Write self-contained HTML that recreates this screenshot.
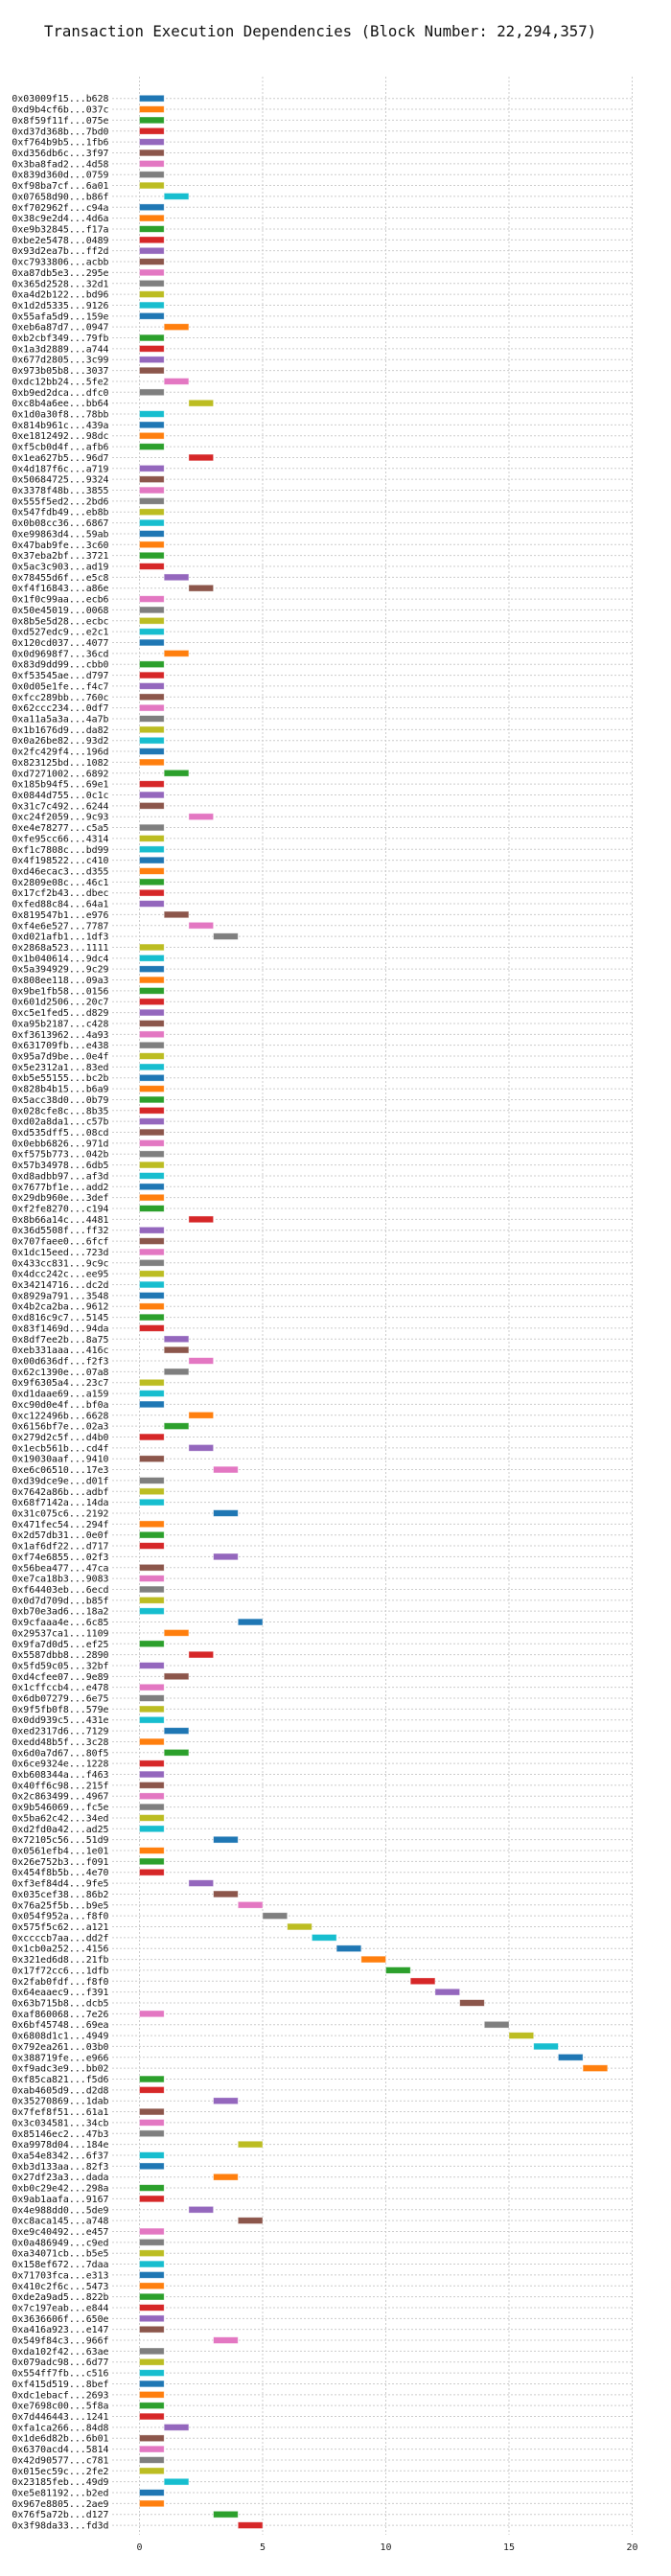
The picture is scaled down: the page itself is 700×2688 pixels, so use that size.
<!DOCTYPE html>
<html><head><meta charset="utf-8"><style>
html,body{margin:0;padding:0;background:#fff;}
svg{display:block;}
text{font-family:"DejaVu Sans Mono","Liberation Mono",monospace;}
</style></head>
<body>
<svg id="chart" width="700" height="2688" viewBox="0 0 700 2688" xmlns="http://www.w3.org/2000/svg">
<rect width="700" height="2688" fill="#fff"/>
<text x="46" y="38" font-size="15.7" fill="#111">Transaction Execution Dependencies (Block Number: 22,294,357)</text>
<g id="grid"></g><g id="rows"></g><g id="xticks"></g>
</svg>
<script>
const txLabels = ["0x03009f15...b628","0xd9b4cf6b...037c","0x8f59f11f...075e","0xd37d368b...7bd0","0xf764b9b5...1fb6","0xd356db6c...3f97","0x3ba8fad2...4d58","0x839d360d...0759","0xf98ba7cf...6a01","0x07658d90...b86f","0xf702962f...c94a","0x38c9e2d4...4d6a","0xe9b32845...f17a","0xbe2e5478...0489","0x93d2ea7b...ff2d","0xc7933806...acbb","0xa87db5e3...295e","0x365d2528...32d1","0xa4d2b122...bd96","0x1d2d5335...9126","0x55afa5d9...159e","0xeb6a87d7...0947","0xb2cbf349...79fb","0x1a3d2889...a744","0x677d2805...3c99","0x973b05b8...3037","0xdc12bb24...5fe2","0xb9ed2dca...dfc0","0xc8b4a6ee...bb64","0x1d0a30f8...78bb","0x814b961c...439a","0xe1812492...98dc","0xf5cb0d4f...afb6","0x1ea627b5...96d7","0x4d187f6c...a719","0x50684725...9324","0x3378f48b...3855","0x555f5ed2...2bd6","0x547fdb49...eb8b","0x0b08cc36...6867","0xe99863d4...59ab","0x47bab9fe...3c60","0x37eba2bf...3721","0x5ac3c903...ad19","0x78455d6f...e5c8","0xf4f16843...a86e","0x1f0c99aa...ecb6","0x50e45019...0068","0x8b5e5d28...ecbc","0xd527edc9...e2c1","0x120cd037...4077","0x0d9698f7...36cd","0x83d9dd99...cbb0","0xf53545ae...d797","0x0d05e1fe...f4c7","0xfcc289bb...760c","0x62ccc234...0df7","0xa11a5a3a...4a7b","0x1b1676d9...da82","0x0a26be82...93d2","0x2fc429f4...196d","0x823125bd...1082","0xd7271002...6892","0x185b94f5...69e1","0x0844d755...0c1c","0x31c7c492...6244","0xc24f2059...9c93","0xe4e78277...c5a5","0xfe95cc66...4314","0xf1c7808c...bd99","0x4f198522...c410","0xd46ecac3...d355","0x2809e08c...46c1","0x17cf2b43...dbec","0xfed88c84...64a1","0x819547b1...e976","0xf4e6e527...7787","0xd021afb1...1df3","0x2868a523...1111","0x1b040614...9dc4","0x5a394929...9c29","0x808ee118...09a3","0x9be1fb58...0156","0x601d2506...20c7","0xc5e1fed5...d829","0xa95b2187...c428","0xf3613962...4a93","0x631709fb...e438","0x95a7d9be...0e4f","0x5e2312a1...83ed","0xb5e55155...bc2b","0x828b4b15...b6a9","0x5acc38d0...0b79","0x028cfe8c...8b35","0xd02a8da1...c57b","0xd535dff5...08cd","0x0ebb6826...971d","0xf575b773...042b","0x57b34978...6db5","0xd8adbb97...af3d","0x7677bf1e...add2","0x29db960e...3def","0xf2fe8270...c194","0x8b66a14c...4481","0x36d5508f...ff32","0x707faee0...6fcf","0x1dc15eed...723d","0x433cc831...9c9c","0x4dcc242c...ee95","0x34214716...dc2d","0x8929a791...3548","0x4b2ca2ba...9612","0xd816c9c7...5145","0x83f1469d...94da","0x8df7ee2b...8a75","0xeb331aaa...416c","0x00d636df...f2f3","0x62c1390e...07a8","0x9f6305a4...23c7","0xd1daae69...a159","0xc90d0e4f...bf0a","0xc122496b...6628","0x6156bf7e...02a3","0x279d2c5f...d4b0","0x1ecb561b...cd4f","0x19030aaf...9410","0xe6c06510...17e3","0xd39dce9e...d01f","0x7642a86b...adbf","0x68f7142a...14da","0x31c075c6...2192","0x471fec54...294f","0x2d57db31...0e0f","0x1af6df22...d717","0xf74e6855...02f3","0x56bea477...47ca","0xe7ca18b3...9083","0xf64403eb...6ecd","0x0d7d709d...b85f","0xb70e3ad6...18a2","0x9cfaaa4e...6c85","0x29537ca1...1109","0x9fa7d0d5...ef25","0x5587dbb8...2890","0x5fd59c05...32bf","0xd4cfee07...9e89","0x1cffccb4...e478","0x6db07279...6e75","0x9f5fb0f8...579e","0x0dd939c5...431e","0xed2317d6...7129","0xedd48b5f...3c28","0x6d0a7d67...80f5","0x6ce9324e...1228","0xb608344a...f463","0x40ff6c98...215f","0x2c863499...4967","0x9b546069...fc5e","0x5ba62c42...34ed","0xd2fd0a42...ad25","0x72105c56...51d9","0x0561efb4...1e01","0x26e752b3...f091","0x454f8b5b...4e70","0xf3ef84d4...9fe5","0x035cef38...86b2","0x76a25f5b...b9e5","0x054f952a...f8f0","0x575f5c62...a121","0xccccb7aa...dd2f","0x1cb0a252...4156","0x321ed6d8...21fb","0x17f72cc6...1dfb","0x2fab0fdf...f8f0","0x64eaaec9...f391","0x63b715b8...dcb5","0xaf860068...7e26","0x6bf45748...69ea","0x6808d1c1...4949","0x792ea261...03b0","0x388719fe...e966","0xf9adc3e9...bb02","0xf85ca821...f5d6","0xab4605d9...d2d8","0x35270869...1dab","0x7fef8f51...61a1","0x3c034581...34cb","0x85146ec2...47b3","0xa9978d04...184e","0xa54e8342...6f37","0xb3d133aa...82f3","0x27df23a3...dada","0xb0c29e42...298a","0x9ab1aafa...9167","0x4e988dd0...5de9","0xc8aca145...a748","0xe9c40492...e457","0x0a486949...c9ed","0xa34071cb...b5e5","0x158ef672...7daa","0x71703fca...e313","0x410c2f6c...5473","0xde2a9ad5...822b","0x7c197eab...e844","0x3636606f...650e","0xa416a923...e147","0x549f84c3...966f","0xda102f42...63ae","0x079adc98...6d77","0x554ff7fb...c516","0xf415d519...8bef","0xdc1ebacf...2693","0xe7698c00...5f8a","0x7d446443...1241","0xfa1ca266...84d8","0x1de6d82b...6b01","0x6370acd4...5814","0x42d90577...c781","0x015ec59c...2fe2","0x23185feb...49d9","0xe5e81192...b2ed","0x967e8805...2ae9","0x76f5a72b...d127","0x3f98da33...fd3d"];
const startTimes = [0,0,0,0,0,0,0,0,0,1,0,0,0,0, 0,0,0,0,0,0,0,1,0,0,0,0,1,0,2,0,0,0,0, 2,0,0,0,0,0,0,0,0,0,0,1,2,0,0,0,0,0,1,0, 0,0,0,0,0,0,0,0,0,1,0,0,0,2,0,0,0,0,0, 0,0,0,1,2,3,0,0,0,0,0,0,0,0,0,0,0,0,0,0, 0,0,0,0,0,0,0,0,0,0,0,2,0,0,0,0,0,0,0, 0,0,0,1,1,2,1,0,0,0,2,1,0,2,0,3,0,0,0, 3,0,0,0,3,0,0,0,0,0,4,1,0,2,0,1,0,0,0, 0,1,0,1,0,0,0,0,0,0,0,3,0,0,0,2,3,4,5, 6,7,8,9,10,11,12,13,0,14,15,16,17,18,0,0,3,0, 0,0,4,0,0,3,0,0,2,4,0,0,0,0,0,0,0,0,0, 0,3,0,0,0,0,0,0,0,1,0,0,0,0,1,0,0,3,4];
const durations = txLabels.map(() => 1);
const xTickValues = [0,5,10,15,20];

const palette = ["#1f77b4","#ff7f0e","#2ca02c","#d62728","#9467bd","#8c564b","#e377c2","#7f7f7f","#bcbd22","#17becf"];
const NS = "http://www.w3.org/2000/svg";
const X0 = 145.5, XU = 25.7;
const Y0 = 102.7, YS = 11.356;
const xScale = v => X0 + v * XU;
const yScale = i => Y0 + i * YS;
const gGrid = document.getElementById('grid');
const gRows = document.getElementById('rows');
const gTicks = document.getElementById('xticks');
function mk(tag, attrs, parent){ const e = document.createElementNS(NS, tag); for (const k in attrs) e.setAttribute(k, attrs[k]); parent.appendChild(e); return e; }

xTickValues.forEach(v => {
  const l = mk('line', {x1:xScale(v), x2:xScale(v), y1:80, y2:2645, stroke:'#cccccc', 'stroke-width':1, 'stroke-dasharray':'2,2'}, gGrid);
  
  
  const t = mk('text', {x:xScale(v), y:2661, 'font-size':10, 'text-anchor':'middle', fill:'#222'}, gTicks);
  t.textContent = v;
  
  
});

txLabels.forEach((lab, i) => {
  const y = yScale(i);
  const gl = mk('line', {x1:117, x2:661, y1:y, y2:y, stroke:'#cccccc', 'stroke-width':1, 'stroke-dasharray':'2,2'}, gGrid);
  
  
  const t = mk('text', {x:113.5, y:y + 3.5, 'font-size':9.9, 'text-anchor':'end', fill:'#111'}, gRows);
  t.textContent = lab;
  
  
  const r = mk('rect', {x:xScale(startTimes[i]), y:y - 3.4, width:xScale(startTimes[i] + durations[i]) - xScale(startTimes[i]), height:6.8, fill:palette[i % 10], stroke:'#ffffff', 'stroke-opacity':0.5, 'stroke-width':0.8}, gRows);
  
  
});
</script>
</body></html>
